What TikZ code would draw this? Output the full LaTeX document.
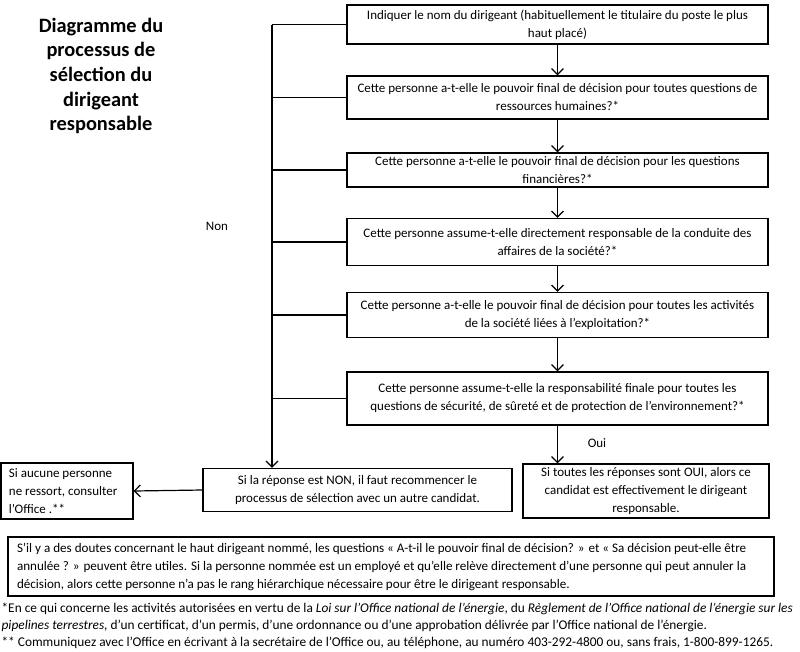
\documentclass[tikz,border=0pt]{standalone}
\usepackage{fontspec}
\setmainfont{Carlito}
\usetikzlibrary{arrows.meta}

\tikzset{
  qbox/.style={draw, line width=1.2pt, align=center, inner sep=0pt,
    font=\fontsize{13}{18}\selectfont},
  notebox/.style={qbox, align=flush left},
}

\begin{document}
\begin{tikzpicture}[x=1pt, y=-1pt, line width=1.2pt, >={Straight Barb[length=6pt,width=12pt]}]
        \useasboundingbox (0,0) rectangle (800,651);

        \node[align=center, font=\bfseries\fontsize{20.4}{24.6}\selectfont] (title) at (101,76)
          {Diagramme du\\processus de\\sélection du\\dirigeant\\responsable};

        \node[qbox, minimum width=421pt, minimum height=39pt] (q1) at (557.5,24.5)
          {Indiquer le nom du dirigeant (habituellement le titulaire du poste le plus\\haut placé)};
        \node[qbox, minimum width=421pt, minimum height=43pt] (q2) at (557.5,97.5)
          {Cette personne a-t-elle le pouvoir final de décision pour toutes questions de\\ressources humaines?*};
        \node[qbox, minimum width=421pt, minimum height=34pt] (q3) at (557.5,170)
          {Cette personne a-t-elle le pouvoir final de décision pour les questions\\financières?*};
        \node[qbox, minimum width=421pt, minimum height=47pt] (q4) at (557.5,242)
          {Cette personne assume-t-elle directement responsable de la conduite des\\affaires de la société?*};
        \node[qbox, minimum width=421pt, minimum height=45pt] (q5) at (557.5,315)
          {Cette personne a-t-elle le pouvoir final de décision pour toutes les activités\\de la société liées à l’exploitation?*};
        \node[qbox, minimum width=421pt, minimum height=53pt] (q6) at (557.5,398.5)
          {Cette personne assume-t-elle la responsabilité finale pour toutes les\\questions de sécurité, de sûreté et de protection de l’environnement?*};

        \node[qbox, minimum width=309pt, minimum height=43pt] (no) at (357.5,490)
          {Si la réponse est NON, il faut recommencer le\\processus de sélection avec un autre candidat.};
        \node[qbox, minimum width=246pt, minimum height=54pt] (yes) at (646,491)
          {Si toutes les réponses sont OUI, alors ce\\candidat est effectivement le dirigeant\\responsable.};
        \node[notebox, text width=116pt, inner xsep=8pt, minimum height=56pt] (none) at (67,491)
          {Si aucune personne\\ne ressort, consulter\\l’Office .**};

        \node[notebox, text width=748pt, inner xsep=9pt, minimum height=59pt,
              font=\fontsize{13.1}{18}\selectfont] (doubt) at (391,566.5)
          {S’il y a des doutes concernant le haut dirigeant nommé, les questions « A-t-il le pouvoir final de décision? » et « Sa décision peut-elle être\\
           annulée ? » peuvent être utiles. Si la personne nommée est un employé et qu’elle relève directement d’une personne qui peut annuler la\\
           décision, alors cette personne n’a pas le rang hiérarchique nécessaire pour être le dirigeant responsable.};

        \node[anchor=north west, align=left, inner sep=0pt, font=\fontsize{13.35}{17}\selectfont] (notes) at (1,602)
          {*En ce qui concerne les activités autorisées en vertu de la \textit{Loi sur l’Office national de l’énergie}, du \textit{Règlement de l’Office national de l’énergie sur les}\\
           \textit{pipelines terrestres,} d’un certificat, d’un permis, d’une ordonnance ou d’une approbation délivrée par l’Office national de l’énergie.\\
           ** Communiquez avec l’Office en écrivant à la secrétaire de l’Office ou, au téléphone, au numéro 403-292-4800 ou, sans frais, 1-800-899-1265.};

        \node[font=\fontsize{13}{18}\selectfont] (non) at (217,226) {Non};
        \node[font=\fontsize{13}{18}\selectfont] (oui) at (597,443) {Oui};

        % yes path
        \draw[->] (q1) -- (q2);
        \draw[->] (q2) -- (q3);
        \draw[->] (q3) -- (q4);
        \draw[->] (q4) -- (q5);
        \draw[->] (q5) -- (q6);
        \draw[->] (q6.south) -- (q6.south |- yes.north);

        % no path
        \coordinate (trunk) at (272,24.5);
        \draw (q1.west) -- (trunk);
        \foreach \q in {q2,q3,q4,q5,q6}
          \draw (\q.west) -- (\q.west -| trunk);
        \draw[->] (trunk) -- (trunk |- no.north);
        \draw[->] (no.west) -- (none.east);
      \end{tikzpicture}
\end{document}
